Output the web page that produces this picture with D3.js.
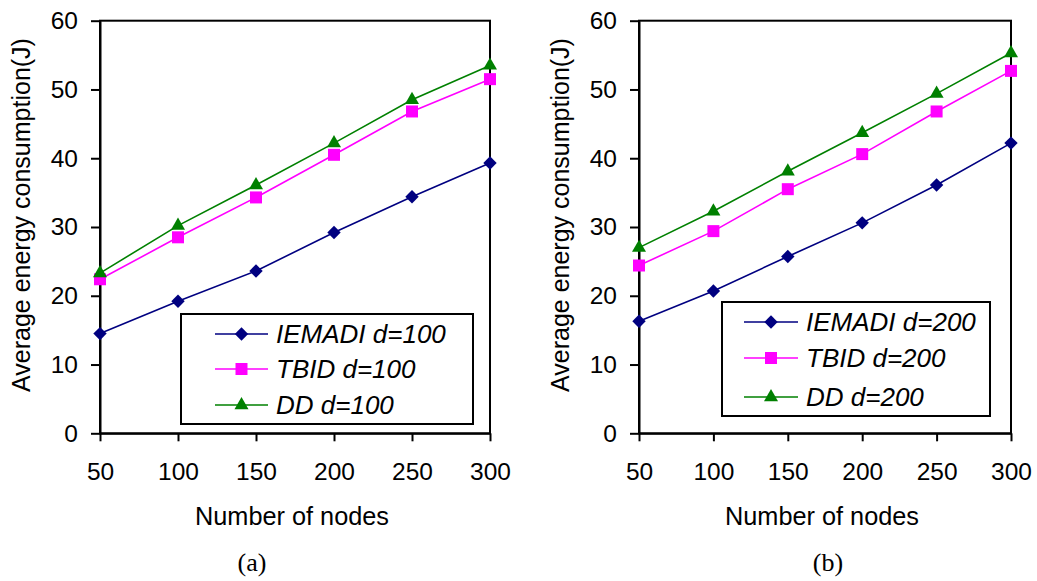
<!DOCTYPE html>
<html>
<head>
<meta charset="utf-8">
<script src="https://cdn.jsdelivr.net/npm/d3@7"></script>
<style>
  body { margin: 0; background: #fff; }
  svg { display: block; }
  text { font-family: "Liberation Sans", Arial, sans-serif; fill: #000; }
</style>
</head>
<body>
<div id="viz"></div>
<script>
// number of nodes on the x axis
const nodes = [50, 100, 150, 200, 250, 300];
const yTicks = [0, 10, 20, 30, 40, 50, 60];

// panel (a), d=100
const iemadiA = [14.5, 19.2, 23.6, 29.2, 34.4, 39.3];
const tbidA = [22.4, 28.5, 34.3, 40.5, 46.8, 51.5];
const ddA = [23.3, 30.2, 36.1, 42.2, 48.5, 53.5];

// panel (b), d=200
const iemadiB = [16.3, 20.7, 25.7, 30.6, 36.1, 42.2];
const tbidB = [24.4, 29.4, 35.5, 40.6, 46.8, 52.7];
const ddB = [27.0, 32.3, 38.1, 43.7, 49.4, 55.3];

const seriesNames = ["IEMADI", "TBID", "DD"];
const colors = ["#000080", "#ff00ff", "#008000"];
const markers = [
  "M0,-6.7L6.7,0L0,6.7L-6.7,0Z",          // diamond
  "M-6,-6L6,-6L6,6L-6,6Z",                // square
  "M0,-8L7,4.2L-7,4.2Z"                   // triangle
];

const svg = d3.select("#viz").append("svg")
  .attr("width", 1037)
  .attr("height", 581);

function drawPanel(cfg, data, dLabel) {
  const x = d3.scaleLinear().domain([50, 300]).range([cfg.x0, cfg.x1]);
  const y = d3.scaleLinear().domain([0, 60]).range([433.3, 20.7]);
  const g = svg.append("g");

  // frame (top + right)
  g.append("rect")
    .attr("x", cfg.x0).attr("y", y(60))
    .attr("width", cfg.x1 - cfg.x0).attr("height", y(0) - y(60))
    .attr("fill", "none").attr("stroke", "#000").attr("stroke-width", 2);

  const yAxis = g.append("g")
    .attr("transform", `translate(${cfg.x0},0)`)
    .call(d3.axisLeft(y).tickValues(yTicks).tickSize(9).tickSizeOuter(0).tickPadding(13));
  const xAxis = g.append("g")
    .attr("transform", `translate(0,${y(0)})`)
    .call(d3.axisBottom(x).tickValues(nodes).tickSize(8).tickSizeOuter(0).tickPadding(21));
  [xAxis, yAxis].forEach(a => {
    a.selectAll("path, line").attr("stroke", "#000").attr("stroke-width", 2);
    a.selectAll("text").attr("font-size", 24.5)
      .attr("font-family", "Liberation Sans, Arial, sans-serif").attr("fill", "#000");
  });

  g.append("text")
    .attr("transform", `translate(${cfg.titleX},215) rotate(-90)`)
    .attr("text-anchor", "middle")
    .attr("font-size", 25)
    .text("Average energy consumption(J)");

  g.append("text")
    .attr("x", (cfg.x0 + cfg.x1) / 2 - 3).attr("y", 525)
    .attr("text-anchor", "middle")
    .attr("font-size", 25.3)
    .text("Number of nodes");

  g.append("text")
    .attr("x", cfg.captionX).attr("y", 571)
    .attr("text-anchor", "middle")
    .attr("font-size", 26)
    .style("font-family", "Liberation Serif, 'Times New Roman', serif")
    .text(cfg.caption);

  const line = d3.line().x((d, i) => x(nodes[i])).y(d => y(d));

  data.forEach((vals, s) => {
    g.append("path")
      .datum(vals)
      .attr("d", line)
      .attr("fill", "none")
      .attr("stroke", colors[s])
      .attr("stroke-width", 1.6);
  });
  data.forEach((vals, s) => {
    g.selectAll(null)
      .data(vals)
      .join("path")
      .attr("d", markers[s])
      .attr("transform", (d, i) => `translate(${x(nodes[i])},${y(d)})`)
      .attr("fill", colors[s]);
  });

  // legend
  const L = cfg.legend;
  g.append("rect")
    .attr("x", L.x).attr("y", L.y).attr("width", L.w).attr("height", L.h)
    .attr("fill", "#fff").attr("stroke", "#000").attr("stroke-width", 2);
  seriesNames.forEach((name, s) => {
    const ry = L.rows[s];
    g.append("line")
      .attr("x1", L.lineX[0]).attr("x2", L.lineX[1])
      .attr("y1", ry).attr("y2", ry)
      .attr("stroke", colors[s]).attr("stroke-width", 1.6);
    g.append("path")
      .attr("d", markers[s])
      .attr("transform", `translate(${(L.lineX[0] + L.lineX[1]) / 2},${ry})`)
      .attr("fill", colors[s]);
    g.append("text")
      .attr("x", L.textX).attr("y", ry).attr("dy", "0.36em")
      .attr("font-size", 26).attr("font-style", "italic")
      .text(`${name} d=${dLabel}`);
  });
}

drawPanel({
  x0: 100, x1: 490, titleX: 30, caption: "(a)", captionX: 252,
  legend: { x: 181, y: 314, w: 292, h: 110, rows: [334, 369, 405], lineX: [215, 268], textX: 276 }
}, [iemadiA, tbidA, ddA], 100);

drawPanel({
  x0: 639, x1: 1011, titleX: 569, caption: "(b)", captionX: 828,
  legend: { x: 722, y: 302, w: 268, h: 114, rows: [322, 358, 397], lineX: [744, 798], textX: 806 }
}, [iemadiB, tbidB, ddB], 200);
</script>
</body>
</html>
